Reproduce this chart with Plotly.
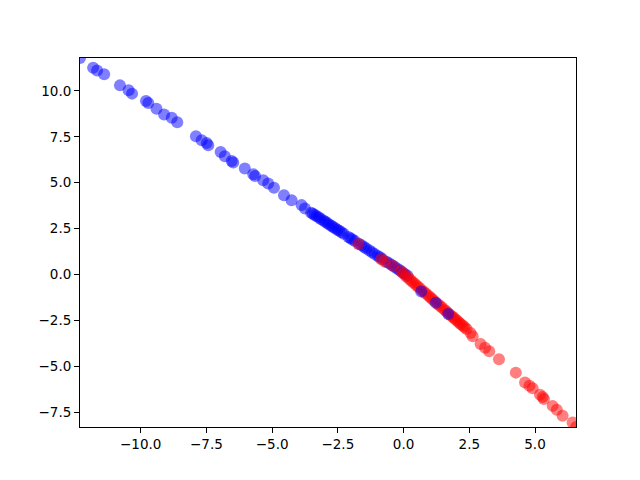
import plotly.graph_objects as go

# Blue class
blue_x = [-12.31, -11.81, -11.66, -11.39, -10.79, -10.46, -10.33, -9.80, -9.71, -9.40,
          -9.11, -8.82, -8.61, -7.90, -7.68, -7.49, -7.43, -6.96, -6.80, -6.54,
          -6.48, -6.04, -5.72, -5.65, -5.34, -5.15, -4.93, -4.55, -4.26, -3.88,
          -3.75, -3.52, -3.45, -3.38, -3.30, -3.22, -3.15, -3.05, -2.98, -2.90,
          -2.83, -2.75, -2.68, -2.60, -2.52, -2.45, -2.36, -2.28, -2.10, -2.02,
          -1.95, -1.85, -1.70, -1.60, -1.50, -1.42, -1.30, -1.20, -1.10, -0.98,
          -0.90, -0.80, -0.65, -0.55, -0.45, -0.35, -0.25, -0.15, -0.05, 0.05,
          0.15, 0.67, 1.23, 1.70]
blue_y = [11.79, 11.26, 11.11, 10.90, 10.30, 10.03, 9.85, 9.45, 9.34, 9.03,
          8.72, 8.54, 8.29, 7.53, 7.31, 7.16, 7.04, 6.67, 6.44, 6.18,
          6.10, 5.77, 5.46, 5.37, 5.14, 4.96, 4.72, 4.32, 4.05, 3.78,
          3.60, 3.37, 3.31, 3.24, 3.17, 3.10, 3.03, 2.94, 2.87, 2.80,
          2.73, 2.66, 2.59, 2.52, 2.44, 2.38, 2.30, 2.22, 2.05, 1.98,
          1.91, 1.82, 1.68, 1.59, 1.50, 1.42, 1.31, 1.22, 1.12, 1.01,
          0.94, 0.84, 0.70, 0.61, 0.52, 0.42, 0.33, 0.24, 0.13, 0.03,
          -0.07, -0.92, -1.53, -2.15]

# Red class
red_x = [-1.72, -0.85, -0.71, -0.40, -0.10, 0.00, 0.10, 0.20, 0.28, 0.36,
         0.44, 0.52, 0.60, 0.70, 0.78, 0.86, 0.95, 1.02, 1.10, 1.18,
         1.30, 1.38, 1.46, 1.55, 1.62, 1.70, 1.78, 1.85, 1.92, 1.98,
         2.05, 2.12, 2.18, 2.25, 2.32, 2.40, 2.55, 2.63, 2.93, 3.10,
         3.26, 3.63, 4.27, 4.62, 4.79, 4.91, 5.19, 5.29, 5.34, 5.67,
         5.83, 6.05, 6.43, 6.56]
red_y = [1.66, 0.83, 0.70, 0.48, 0.19, 0.05, -0.10, -0.22, -0.32, -0.42,
         -0.52, -0.62, -0.72, -0.85, -0.95, -1.05, -1.16, -1.25, -1.35, -1.45,
         -1.60, -1.70, -1.80, -1.91, -2.00, -2.10, -2.20, -2.28, -2.37, -2.45,
         -2.53, -2.62, -2.70, -2.78, -2.87, -2.97, -3.18, -3.36, -3.78, -3.98,
         -4.17, -4.61, -5.34, -5.88, -6.06, -6.19, -6.55, -6.67, -6.78, -7.15,
         -7.36, -7.69, -8.05, -8.30]

x_range = [min(blue_x + red_x), max(blue_x + red_x)]
y_range = [min(blue_y + red_y), max(blue_y + red_y)]
tick_vals = [-10.0, -7.5, -5.0, -2.5, 0.0, 2.5, 5.0, 7.5, 10.0]

# drawing order: most blue points, then red, then the few blue points that sit on top
n_top = 3
xs = blue_x[:-n_top] + red_x + blue_x[-n_top:]
ys = blue_y[:-n_top] + red_y + blue_y[-n_top:]
cs = ["blue"] * (len(blue_x) - n_top) + ["red"] * len(red_x) + ["blue"] * n_top

fig = go.Figure()
fig.add_trace(go.Scatter(x=xs, y=ys, mode="markers",
                         marker=dict(color=cs, size=12, opacity=0.5, line=dict(width=0)),
                         showlegend=False))

axis_common = dict(
    showgrid=False, zeroline=False, showline=True, linecolor="black", linewidth=1,
    mirror=True, ticks="outside", ticklen=5, tickwidth=1, tickcolor="black",
    tickvals=tick_vals, tickformat=".1f",
    tickfont=dict(family="DejaVu Sans", size=13.5, color="black"),
)
fig.update_xaxes(range=x_range, **axis_common)
fig.update_yaxes(range=y_range, **axis_common)

# page body has an 8px margin, so the margins are shifted to compensate
fig.update_layout(
    width=640, height=480,
    margin=dict(l=72, r=72, t=50, b=61),
    paper_bgcolor="white", plot_bgcolor="white",
)
fig.write_html("out.html")
